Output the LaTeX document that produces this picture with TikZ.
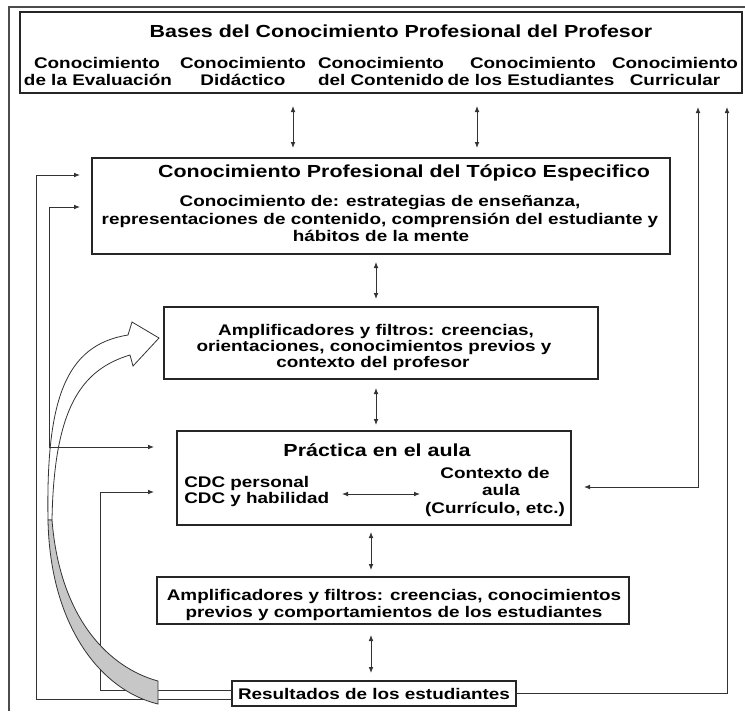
\documentclass[tikz,border=0pt]{standalone}
\usepackage{fontspec}
\setmainfont{Liberation Sans}[FakeStretch=1.227]
\usetikzlibrary{arrows.meta,calc}
\begin{document}
\begin{tikzpicture}[x=0.75pt,y=-0.75pt,
  box/.style={draw=black!85, line width=0.8pt, inner sep=0pt, outer sep=0pt},
  tit/.style={font=\fontsize{13.1pt}{15pt}\selectfont\bfseries, inner sep=0pt, anchor=base},
  txt/.style={font=\fontsize{11.55pt}{13pt}\selectfont\bfseries, inner sep=0pt, anchor=base},
  ln/.style={draw=black!80, line width=0.6pt},
  arr/.style={ln, -{Latex[length=4.5pt,width=3.5pt]}},
  dbl/.style={ln, {Latex[length=4.5pt,width=3.5pt]}-{Latex[length=4.5pt,width=3.5pt]}}]
\path[use as bounding box] (0,0) rectangle (745,711);
% outer frame
\draw[draw=black!70, line width=0.8pt] (9,711) -- (9,7) -- (745,7);

% boxes
\node[box, minimum width=541.5pt, minimum height=60.75pt] (bases) at (381,52.5) {};
\node[box, minimum width=433.5pt, minimum height=72pt] (topico) at (381,206) {};
\node[box, minimum width=325.5pt, minimum height=54pt] (amp1) at (381,343) {};
\node[box, minimum width=295.5pt, minimum height=70.5pt] (practica) at (374,478) {};
\node[box, minimum width=354pt, minimum height=35.25pt] (amp2) at (393,600.5) {};

% texts
\node[tit] (t0) at (401,37) {Bases del Conocimiento Profesional del Profesor};
\node[txt] (c1a) at (97,68) {Conocimiento};
\node[txt] (c1b) at (98,85) {de la Evaluación};
\node[txt] (c2a) at (243,68) {Conocimiento};
\node[txt] (c2b) at (243,85) {Didáctico};
\node[txt] (c3a) at (381,68) {Conocimiento};
\node[txt] (c3b) at (381,85) {del Contenido};
\node[txt] (c4a) at (533,68) {Conocimiento};
\node[txt] (c4b) at (531,85) {de los Estudiantes};
\node[txt] (c5a) at (675,68) {Conocimiento};
\node[txt] (c5b) at (675,85) {Curricular};

\node[tit] (tt) at (404,177) {Conocimiento Profesional del Tópico Especifico};
\node[txt] (tb1) at (380,206) {Conocimiento de: estrategias de enseñanza,};
\node[txt] (tb2) at (380,224) {representaciones de contenido, comprensión del estudiante y};
\node[txt] (tb3) at (381,241) {hábitos de la mente};

\node[txt] (a1a) at (376,335) {Amplificadores y filtros: creencias,};
\node[txt] (a1b) at (374,351) {orientaciones, conocimientos previos y};
\node[txt] (a1c) at (373,367) {contexto del profesor};

\node[tit] (pt) at (377,456) {Práctica en el aula};
\node[txt, anchor=base west] (p1) at (184,487) {CDC personal};
\node[txt, anchor=base west] (p2) at (184,503) {CDC y habilidad};
\node[txt] (k1) at (495,478) {Contexto de};
\node[txt] (k2) at (501,495) {aula};
\node[txt] (k3) at (495,513) {(Currículo, etc.)};

\node[txt] (b1) at (394,600) {Amplificadores y filtros: creencias, conocimientos};
\node[txt] (b2) at (394,617) {previos y comportamientos de los estudiantes};

\node[box, minimum width=213pt, minimum height=18.75pt,
      font=\fontsize{11.55pt}{13pt}\selectfont\bfseries] (result) at (374,693.5) {Resultados de los estudiantes};

% curved broad arrow, upper (white) part
\filldraw[fill=white, draw=black!80, line width=0.6pt]
  (48,520) .. controls (46,400) and (65,345) .. (128,335) -- (132,322) -- (159,338)
  -- (133,366) -- (130,355) .. controls (80,370) and (54,410) .. (52,520) -- cycle;

% vertical double arrows
\draw[dbl, shorten <=9.75pt, shorten >=7.5pt] (293,0 |- bases.south) -- (293,0 |- topico.north);
\draw[dbl, shorten <=9.75pt, shorten >=7.5pt] (477,0 |- bases.south) -- (477,0 |- topico.north);
\draw[dbl, shorten <=6pt, shorten >=6pt] (376,0 |- topico.south) -- (376,0 |- amp1.north);
\draw[dbl, shorten <=6.75pt, shorten >=4.5pt] (376,0 |- amp1.south) -- (376,0 |- practica.north);
\draw[dbl, shorten <=5.25pt, shorten >=5.25pt] (371,0 |- practica.south) -- (371,0 |- amp2.north);
\draw[dbl, shorten <=8.25pt, shorten >=6pt] (371,0 |- amp2.south) -- (371,0 |- result.north);

% inner arrow
\coordinate (ia) at (342,494);
\coordinate (ib) at (420,494);
\draw[dbl] (ia) -- (ib);

% left feedback lines
\draw[arr, shorten >=9pt] ($(result.west)+(0,5.5)$) -| (36,175) -- (36,175 -| topico.west);
\draw[dbl, shorten <=17.25pt, shorten >=9pt] (49,447 -| practica.west) -| (49,207) -- (49,207 -| topico.west);
\draw[arr, shorten >=17.25pt] ($(result.west)+(0,-3.5)$) -| (100,492) -- (100,492 -| practica.west);

% right feedback lines
\draw[dbl, shorten <=10.5pt, shorten >=9.75pt] (698,0 |- bases.south) |- (practica.east |- 0,487);
\draw[arr, shorten >=10.5pt] (result.east) -| (727,0 |- bases.south);

% curved broad arrow, lower (grey) part
\filldraw[fill=black!22, draw=black!80, line width=0.6pt]
  (48,520) .. controls (50,625) and (100,690) .. (158,704) -- (158,681)
  .. controls (110,668) and (60,620) .. (52,520) -- cycle;
\end{tikzpicture}
\end{document}
